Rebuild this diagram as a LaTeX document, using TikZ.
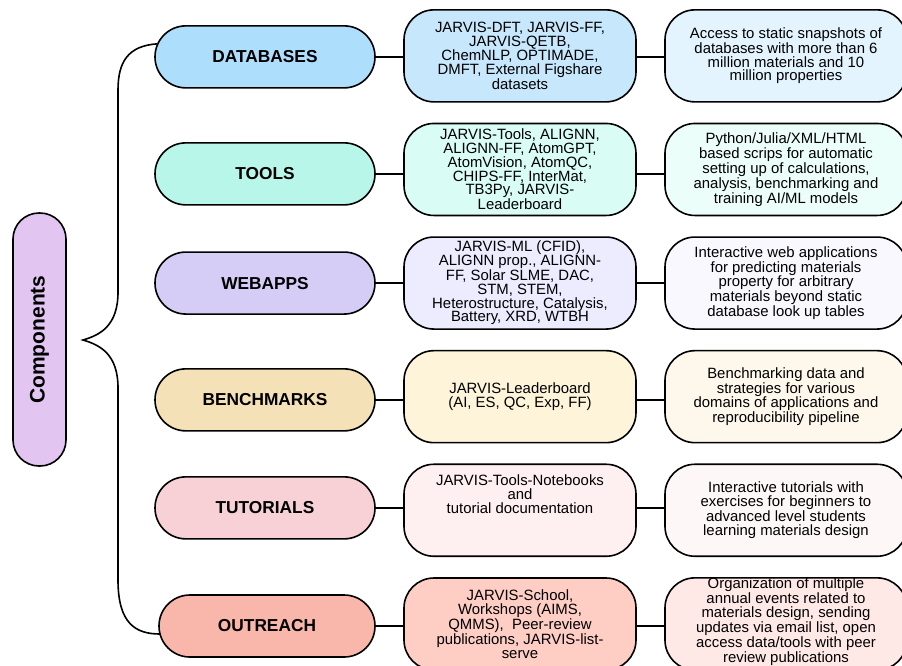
\documentclass[tikz,border=0pt]{standalone}
\usepackage{fontspec}
\setmainfont{Liberation Sans}

\definecolor{compfill}{HTML}{E2C6F1}
\definecolor{dbA}{HTML}{ADDEFB}
\definecolor{dbB}{HTML}{C7E7FC}
\definecolor{dbC}{HTML}{E3F4FE}
\definecolor{toolA}{HTML}{B9F6EA}
\definecolor{toolB}{HTML}{D9FCF4}
\definecolor{toolC}{HTML}{EBFEFA}
\definecolor{webA}{HTML}{D5CDF6}
\definecolor{webB}{HTML}{EDEBFE}
\definecolor{webC}{HTML}{F9F8FF}
\definecolor{benchA}{HTML}{F4E1B7}
\definecolor{benchB}{HTML}{FEF4DA}
\definecolor{benchC}{HTML}{FEF8EC}
\definecolor{tutA}{HTML}{F8D1D6}
\definecolor{tutB}{HTML}{FEEFF0}
\definecolor{tutC}{HTML}{FEF7F7}
\definecolor{outA}{HTML}{F8B7AA}
\definecolor{outB}{HTML}{FECDC4}
\definecolor{outC}{HTML}{FEE9E6}

\begin{document}
\begin{tikzpicture}[x=1pt,y=1pt,line width=1.6pt,
    catbox/.style={draw,fill=#1,inner sep=3pt,outer sep=0pt,rounded corners=30.9pt,minimum width=220pt,minimum height=62pt,
      font=\fontsize{17.3}{17}\selectfont\bfseries},
    listbox/.style={draw,fill=#1,inner sep=2pt,outer sep=0pt,rounded corners=30pt,minimum width=232pt,minimum height=92pt,
      align=center,font=\fontsize{14.9}{13.8}\selectfont},
    notebox/.style={listbox=#1,minimum width=242pt}]
      \useasboundingbox (0,0) rectangle (902,-665);
      \node[draw,fill=compfill,inner sep=3pt,rounded corners=26pt,minimum width=253pt,minimum height=53pt,rotate=90,
        font=\fontsize{21}{21}\selectfont\bfseries] (comp) at (39.5,-339.5) {Components};
      \matrix[inner sep=0pt,column sep=27.4pt,row sep=20pt] at (531,-340) {
        \node[catbox=dbA,yshift=-1pt] (dbase) {DATABASES}; &
        \node[listbox=dbB] (dbase-list) {JARVIS-DFT, JARVIS-FF,\\ JARVIS-QETB,\\ ChemNLP, OPTIMADE,\\ DMFT, External Figshare\\ datasets}; &
        \node[notebox=dbC] (dbase-note) {Access to static snapshots of\\ databases with more than 6\\ million materials and 10\\ million properties}; \\
        \node[catbox=toolA,yshift=-4.4pt] (tools) {TOOLS}; &
        \node[listbox=toolB] (tools-list) {JARVIS-Tools, ALIGNN,\\ ALIGNN-FF, AtomGPT,\\ AtomVision, AtomQC,\\ CHIPS-FF, InterMat,\\ TB3Py, JARVIS-\\ Leaderboard}; &
        \node[notebox=toolC] (tools-note) {Python/Julia/XML/HTML\\ based scrips for automatic\\ setting up of calculations,\\ analysis, benchmarking and\\ training AI/ML models}; \\
        \node[catbox=webA] (webapps) {WEBAPPS}; &
        \node[listbox=webB] (webapps-list) {JARVIS-ML (CFID),\\ ALIGNN prop., ALIGNN-\\ FF, Solar SLME, DAC,\\ STM, STEM,\\ Heterostructure, Catalysis,\\ Battery, XRD, WTBH}; &
        \node[notebox=webC] (webapps-note) {Interactive web applications\\ for predicting materials\\ property for arbitrary\\ materials beyond static\\ database look up tables}; \\
        \node[catbox=benchA,yshift=-3.2pt] (bench) {BENCHMARKS}; &
        \node[listbox=benchB] (bench-list) {JARVIS-Leaderboard\\ (AI, ES, QC, Exp, FF)}; &
        \node[notebox=benchC] (bench-note) {Benchmarking data and\\ strategies for various\\ domains of applications and\\ reproducibility pipeline}; \\
        \node[catbox=tutA,yshift=2.4pt] (tutor) {TUTORIALS}; &
        \node[listbox=tutB] (tutor-list) {JARVIS-Tools-Notebooks\\ and\\ tutorial documentation\\ \strut\\ \strut}; &
        \node[notebox=tutC] (tutor-note) {Interactive tutorials with\\ exercises for beginners to\\ advanced level students\\ learning materials design}; \\
        \node[catbox=outA,minimum width=216pt,xshift=2pt,yshift=-2pt] (outreach) {OUTREACH}; &
        \node[listbox=outB] (outreach-list) {JARVIS-School,\\ Workshops (AIMS,\\ QMMS),~~Peer-review\\ publications, JARVIS-list-\\ serve}; &
        \node[notebox=outC,inner sep=0pt] (outreach-note) {Organization of multiple\\ annual events related to\\ materials design, sending\\ updates via email list, open\\ access data/tools with peer\\ review publications\\[-9.8pt] \strut}; \\
      };
      \foreach \n in {dbase,tools,webapps,bench,tutor,outreach}
        \draw (\n.east) -- (\n.east -| \n-list.west) (\n.east -| \n-list.east) -- (\n.east -| \n-note.west);
      \coordinate (tip) at (83,-340);
      \draw ([shift={(2pt,13pt)}]dbase.west) .. controls +(-29pt,-2pt) and +(0pt,28pt) .. (118,-90)
        -- (118,-292) .. controls +(0pt,-34pt) and +(17pt,5pt) .. (tip)
        .. controls +(17pt,-5pt) and +(0pt,34pt) .. (118,-388)
        -- (118,-580) .. controls +(0pt,-44pt) and +(-24pt,0pt) .. ([shift={(1pt,-8pt)}]outreach.west);
  \end{tikzpicture}
\end{document}
